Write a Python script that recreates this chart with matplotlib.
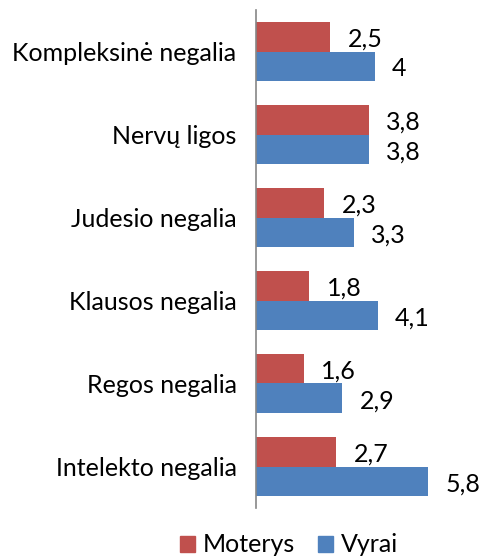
import numpy as np
import matplotlib.pyplot as plt
from matplotlib.patches import Patch

categories = ["Kompleksinė negalia", "Nervų ligos", "Judesio negalia",
              "Klausos negalia", "Regos negalia", "Intelekto negalia"]
moterys = [2.5, 3.8, 2.3, 1.8, 1.6, 2.7]
vyrai = [4.0, 3.8, 3.3, 4.1, 2.9, 5.8]

RED = "#C0504D"
BLUE = "#4F81BD"

plt.rcParams['font.family'] = ['Lato', 'DejaVu Sans']

fig = plt.figure(figsize=(4.8, 5.57), dpi=100)
ax = fig.add_axes([256 / 480, 1 - 508 / 557, 208 / 480, 498 / 557])

y = np.arange(len(categories))
h = 0.36
ax.barh(y - h / 2, moterys, height=h, color=RED)
ax.barh(y + h / 2, vyrai, height=h, color=BLUE)

def fmt(v):
    return f"{v:g}".replace(".", ",")

for yi, m, v in zip(y, moterys, vyrai):
    ax.text(m + 0.58, yi - h / 2 + 0.03, fmt(m), va="center", ha="left", fontsize=18, clip_on=False)
    ax.text(v + 0.58, yi + h / 2 + 0.03, fmt(v), va="center", ha="left", fontsize=18, clip_on=False)

ax.set_ylim(len(categories) - 0.5, -0.5)
ax.set_xlim(0, 7)
ax.set_yticks(y)
ax.set_yticklabels(categories, fontsize=18)
ax.tick_params(axis="y", length=0, pad=14)
ax.set_xticks([])
for s in ["top", "right", "bottom"]:
    ax.spines[s].set_visible(False)
ax.spines["left"].set_color("#868686")
ax.spines["left"].set_linewidth(1.2)

handles = [Patch(color=RED, label="Moterys"), Patch(color=BLUE, label="Vyrai")]
fig.legend(handles=handles, loc="center", bbox_to_anchor=(289 / 480, 1 - 545 / 557),
           ncol=2, frameon=False, fontsize=18, handlelength=0.6, handleheight=0.6,
           handletextpad=0.3, columnspacing=0.95, borderaxespad=0, borderpad=0)

fig.savefig("out.png", dpi=100)
